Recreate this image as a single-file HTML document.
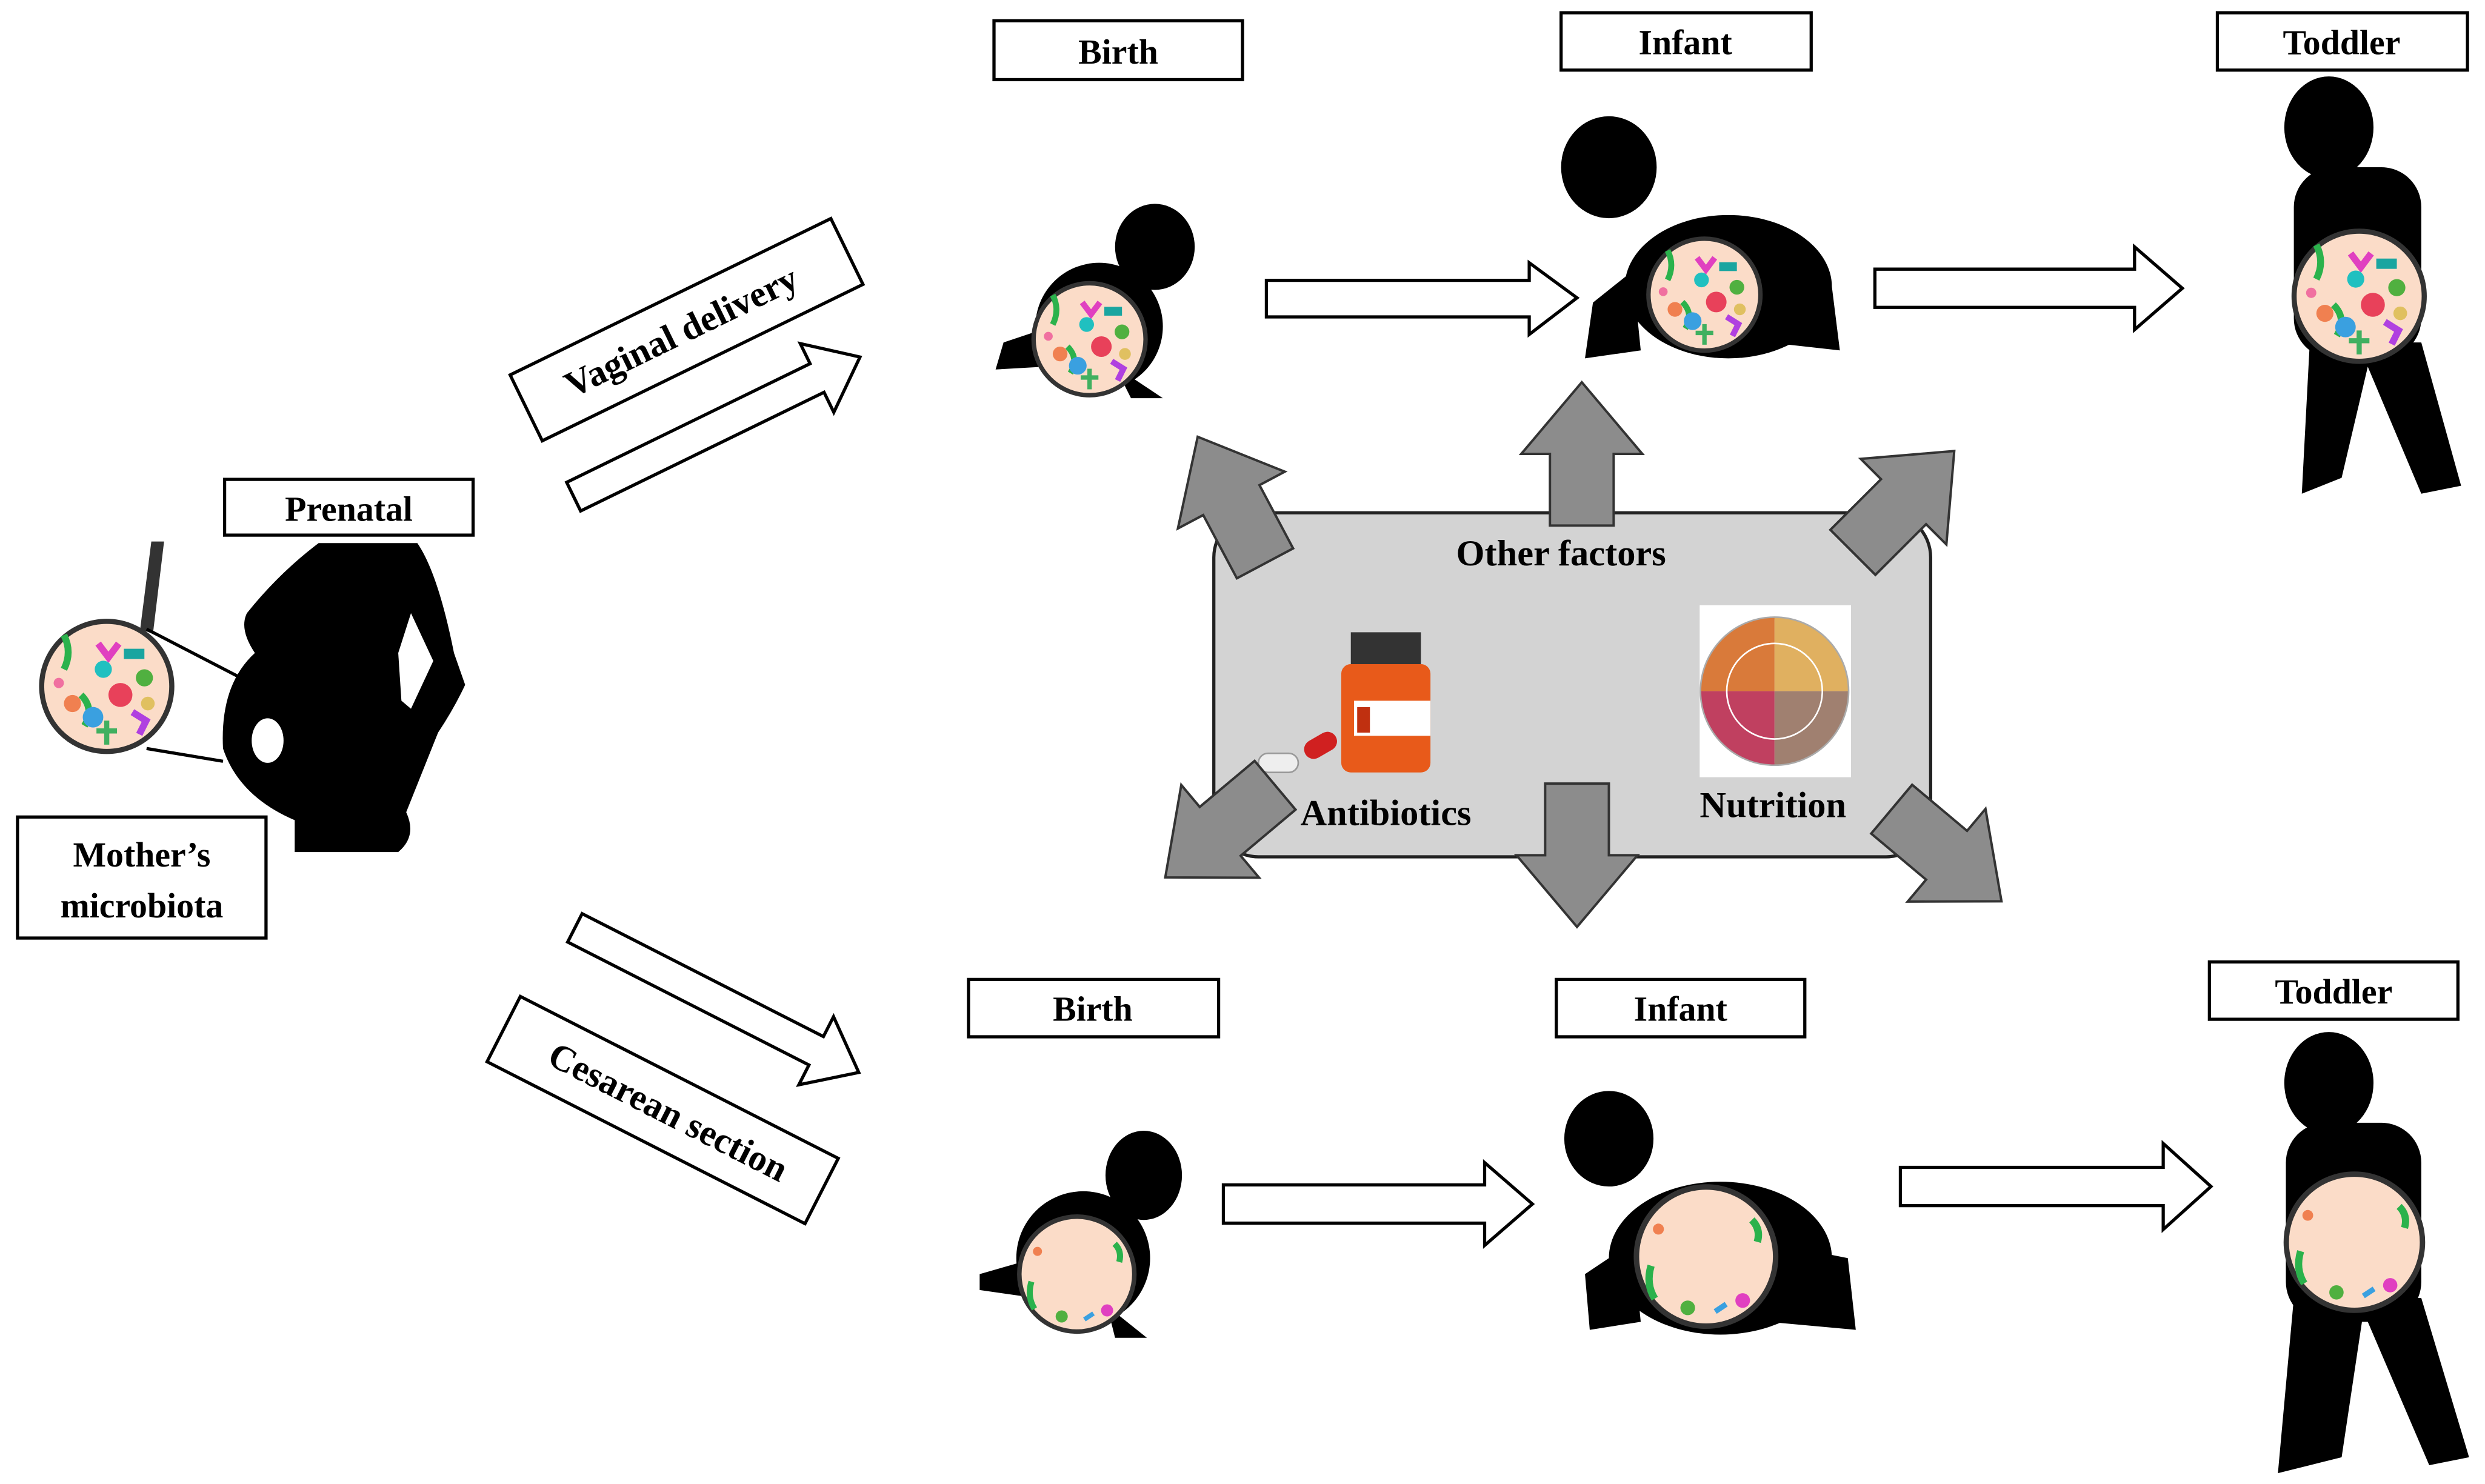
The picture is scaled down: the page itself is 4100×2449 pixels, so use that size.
<!DOCTYPE html>
<html><head><meta charset="utf-8"><style>
html,body{margin:0;padding:0;background:#fff}
svg{display:block}
text{font-family:"Liberation Serif",serif;font-weight:bold;fill:#000}
</style></head><body>
<svg width="4100" height="2449" viewBox="0 0 1560 931.8" xmlns="http://www.w3.org/2000/svg">
<defs>
<g id="mic">
<circle r="1" fill="#fbdcc8"/>
</g>
<symbol id="bugs" viewBox="-40 -40 80 80">
<circle r="38" fill="#fbdcc8" stroke="#333" stroke-width="3"/>
<path d="M-25,-10 q5,-10 0,-20" stroke="#2bb24c" stroke-width="4" fill="none"/>
<path d="M-15,5 q8,8 2,18" stroke="#2bb24c" stroke-width="4" fill="none"/>
<circle cx="8" cy="5" r="7" fill="#e8415a"/>
<circle cx="-20" cy="10" r="5" fill="#f08050"/>
<rect x="10" y="-22" width="12" height="6" fill="#1aa5a0"/>
<circle cx="22" cy="-5" r="5" fill="#50b040"/>
<path d="M-5,-25 l6,8 l6,-8" stroke="#e040c0" stroke-width="4" fill="none"/>
<circle cx="-8" cy="18" r="6" fill="#3aa0e0"/>
<path d="M15,15 l8,5 l-4,8" stroke="#b040e0" stroke-width="4" fill="none"/>
<circle cx="-2" cy="-10" r="5" fill="#20c0c0"/>
<path d="M0,20 l0,14 M-6,26 l12,0" stroke="#40b060" stroke-width="3"/>
<circle cx="24" cy="10" r="4" fill="#e0c060"/>
<circle cx="-28" cy="-2" r="3" fill="#f070a0"/>
</symbol>
<symbol id="bugs2" viewBox="-40 -40 80 80">
<circle r="38" fill="#fbdcc8" stroke="#333" stroke-width="3"/>
<path d="M-30,5 q-3,10 2,18" stroke="#2bb24c" stroke-width="4" fill="none"/>
<path d="M25,-20 q5,5 3,12" stroke="#2bb24c" stroke-width="4" fill="none"/>
<circle cx="-10" cy="28" r="4" fill="#50b040"/>
<circle cx="20" cy="24" r="4" fill="#e040c0"/>
<circle cx="-26" cy="-15" r="3" fill="#f08050"/>
<path d="M5,30 l6,-4" stroke="#3aa0e0" stroke-width="3"/>
</symbol>
<g id="garrow"><polygon points="-20,45 20,45 20,0 38,0 0,-45 -38,0 -20,0" fill="#8c8c8c" stroke="#333" stroke-width="1.5"/></g>
</defs>

<!-- gray box -->
<rect x="762" y="322" width="450" height="216" rx="28" fill="#d3d3d3" stroke="#222" stroke-width="2"/>
<text x="980" y="355" font-size="23" text-anchor="middle">Other factors</text>
<text x="870" y="518" font-size="23" text-anchor="middle">Antibiotics</text>
<text x="1113" y="513" font-size="23" text-anchor="middle">Nutrition</text>
<!-- bottle -->
<rect x="848" y="397" width="44" height="20" fill="#333"/>
<rect x="842" y="417" width="56" height="68" rx="6" fill="#e85a1a"/>
<rect x="850" y="440" width="48" height="22" fill="#fff"/>
<rect x="852" y="444" width="8" height="16" fill="#c03010"/>
<rect x="790" y="473" width="25" height="12" rx="6" fill="#eee" stroke="#999"/>
<rect x="818" y="462" width="22" height="12" rx="6" fill="#d02020" transform="rotate(-30 829 468)"/>
<!-- plate -->
<rect x="1067" y="380" width="95" height="108" fill="#fff"/>
<circle cx="1114" cy="434" r="46" fill="#e8e8e8" stroke="#aaa" stroke-width="2"/>
<path d="M1114,434 L1114,388 A46,46 0 0 0 1068,434 Z" fill="#d97a3a"/>
<path d="M1114,434 L1068,434 A46,46 0 0 0 1114,480 Z" fill="#c04060"/>
<path d="M1114,434 L1114,388 A46,46 0 0 1 1160,434 Z" fill="#e0b060"/>
<path d="M1114,434 L1160,434 A46,46 0 0 1 1114,480 Z" fill="#a08070"/>
<circle cx="1114" cy="434" r="30" fill="none" stroke="#fff" stroke-width="1"/>

<!-- gray arrows -->
<use href="#garrow" transform="translate(773,314) rotate(-28)"/>
<use href="#garrow" transform="translate(993,285)"/>
<use href="#garrow" transform="translate(1195,315) rotate(45)"/>
<use href="#garrow" transform="translate(766,522) rotate(-130)"/>
<use href="#garrow" transform="translate(990,537) rotate(180)"/>
<use href="#garrow" transform="translate(1222,537) rotate(130)"/>

<!-- labels -->
<g fill="#fff" stroke="#000" stroke-width="2">
<rect x="624" y="13" width="156" height="37"/>
<rect x="980" y="8" width="157" height="36"/>
<rect x="1392" y="8" width="157" height="36"/>
<rect x="141" y="301" width="156" height="35"/>
<rect x="11" y="513" width="156" height="76"/>
<rect x="608" y="615" width="157" height="36"/>
<rect x="977" y="615" width="156" height="36"/>
<rect x="1387" y="604" width="156" height="36"/>
</g>
<g font-size="22" text-anchor="middle">
<text x="702" y="40">Birth</text>
<text x="1058" y="34">Infant</text>
<text x="1470" y="34">Toddler</text>
<text x="219" y="327">Prenatal</text>
<text x="89" y="544">Mother’s</text>
<text x="89" y="576">microbiota</text>
<text x="686" y="641">Birth</text>
<text x="1055" y="641">Infant</text>
<text x="1465" y="630">Toddler</text>
</g>

<!-- white horizontal arrows -->
<g fill="#fff" stroke="#000" stroke-width="2">
<polygon points="795,176 960,176 960,165 990,187 960,210 960,199 795,199"/>
<polygon points="1177,169 1340,169 1340,155 1370,181 1340,207 1340,193 1177,193"/>
<polygon points="768,744 932,744 932,730 962,756 932,782 932,768 768,768"/>
<polygon points="1193,733 1358,733 1358,718 1388,745 1358,772 1358,757 1193,757"/>
<!-- vaginal -->
<g transform="translate(431,207) rotate(-26)">
<rect x="-112" y="-23" width="224" height="46"/>
</g>
<g transform="translate(450,268) rotate(-26)">
<polygon points="-100,-10 70,-10 70,-24 100,0 70,24 70,10 -100,10"/>
</g>
<!-- cesarean -->
<g transform="translate(450,628) rotate(27)">
<polygon points="-100,-10 70,-10 70,-24 100,0 70,24 70,10 -100,10"/>
</g>
<g transform="translate(416,697) rotate(27)">
<rect x="-112" y="-23" width="224" height="46"/>
</g>
</g>
<text transform="translate(431,215) rotate(-26)" font-size="23" text-anchor="middle">Vaginal  delivery</text>
<text transform="translate(416,705) rotate(27)" font-size="23" text-anchor="middle">Cesarean  section</text>

<!-- pregnant woman -->
<path d="M200,341 L262,341 Q275,360 285,410 L292,430 Q285,445 275,460 L255,510 Q262,525 250,535 L185,535 L185,515 Q150,500 140,470 Q138,430 160,410 Q150,395 155,385 Q175,360 200,341 Z" fill="#000"/>
<path d="M258,385 L272,415 L258,445 L252,440 L250,410 Z" fill="#fff"/>
<ellipse cx="168" cy="465" rx="10" ry="14" fill="#fff"/>
<path d="M88,395 L95,340 L103,340 L96,398" fill="#333"/>
<line x1="92" y1="395" x2="150" y2="425" stroke="#000" stroke-width="2"/>
<line x1="92" y1="470" x2="140" y2="478" stroke="#000" stroke-width="2"/>
<use href="#bugs" x="24" y="388" width="86" height="86"/>

<!-- newborn top -->
<g fill="#000">
<ellipse cx="725" cy="155" rx="25" ry="27"/>
<ellipse cx="690" cy="205" rx="40" ry="40"/>
<path d="M630,215 L660,205 L660,230 L625,232 Z"/>
<path d="M700,230 L730,250 L710,250 Z"/>
</g>
<use href="#bugs" x="647" y="176" width="74" height="74"/>
<!-- infant top -->
<g fill="#000">
<ellipse cx="1010" cy="105" rx="30" ry="32"/>
<ellipse cx="1085" cy="180" rx="65" ry="45"/>
<path d="M1000,190 L1025,170 L1030,220 L995,225 Z"/>
<path d="M1110,170 L1150,180 L1155,220 L1110,215 Z"/>
</g>
<use href="#bugs" x="1033" y="148" width="74" height="74"/>
<!-- toddler top -->
<g fill="#000">
<ellipse cx="1462" cy="80" rx="28" ry="32"/>
<rect x="1440" y="105" width="80" height="120" rx="25"/>
<path d="M1450,215 L1490,215 L1470,300 L1445,310 Z"/>
<path d="M1480,215 L1520,215 L1545,305 L1520,310 Z"/>
</g>
<use href="#bugs" x="1438" y="143" width="86" height="86"/>

<!-- newborn bottom -->
<g fill="#000">
<ellipse cx="718" cy="738" rx="24" ry="28"/>
<ellipse cx="680" cy="790" rx="42" ry="42"/>
<path d="M615,800 L650,790 L650,815 L615,810 Z"/>
<path d="M695,820 L720,840 L700,840 Z"/>
</g>
<use href="#bugs2" x="638" y="762" width="76" height="76"/>
<!-- infant bottom -->
<g fill="#000">
<ellipse cx="1010" cy="715" rx="28" ry="30"/>
<ellipse cx="1080" cy="790" rx="70" ry="48"/>
<path d="M995,800 L1025,780 L1030,830 L998,835 Z"/>
<path d="M1110,780 L1160,790 L1165,835 L1110,830 Z"/>
</g>
<use href="#bugs2" x="1025" y="743" width="92" height="92"/>
<!-- toddler bottom -->
<g fill="#000">
<ellipse cx="1462" cy="680" rx="28" ry="32"/>
<rect x="1435" y="705" width="85" height="125" rx="25"/>
<path d="M1440,815 L1485,815 L1470,915 L1430,925 Z"/>
<path d="M1480,815 L1520,815 L1550,915 L1525,920 Z"/>
</g>
<use href="#bugs2" x="1433" y="735" width="90" height="90"/>
</svg>
</body></html>
